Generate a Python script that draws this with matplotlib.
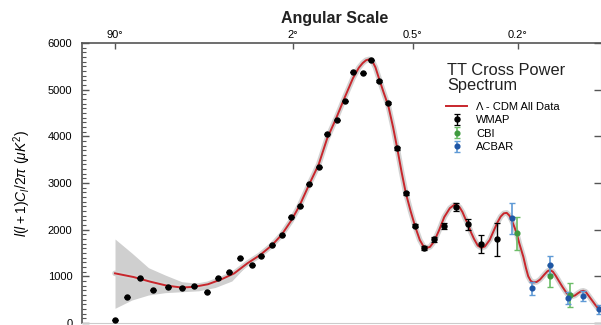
#!/usr/bin/env python3
import matplotlib
matplotlib.use("Agg")
import matplotlib.pyplot as plt
import numpy as np
from matplotlib.ticker import MultipleLocator, NullLocator, FixedLocator

plt.rcParams["font.family"] = ["Liberation Sans", "DejaVu Sans"]
plt.rcParams["mathtext.fontset"] = "custom"
plt.rcParams["mathtext.rm"] = "Liberation Sans"
plt.rcParams["mathtext.it"] = "Liberation Sans:italic"

# WMAP binned points (multipole l, l(l+1)C_l/2pi in uK^2)
wmap_l = [2, 3, 4.5, 6.4, 9.5, 13, 17, 22, 27.4, 33.5, 40.3, 48.9, 56.6, 66.6,
          77.1, 87.5, 99.4, 112, 126.9, 141.4, 158.5, 175.5, 192.5, 214, 234.5,
          256.4, 281.8, 309.1, 337.3, 369.6, 402.9, 441.4, 485.1, 537.3, 596.5,
          667.9, 763.8]
wmap_v = [64, 563, 957, 707, 777, 743, 792, 670, 970, 1098, 1385, 1242, 1435,
          1670, 1884, 2276, 2512, 2976, 3347, 4041, 4347, 4760, 5381, 5347, 5632,
          5188, 4717, 3741, 2777, 2084, 1612, 1792, 2077, 2490, 2113, 1692, 1792]
wmap_err = [0, 0, 0, 0, 0, 0, 0, 0, 0, 0, 0, 0, 0, 0,
            0, 0, 0, 0, 0, 0, 0, 0, 0, 0, 0,
            20, 20, 25, 30, 35, 40, 50, 60, 86, 120, 200, 360]

cbi_l = [891, 1146, 1323]
cbi_v = [1921, 1006, 600]
cbi_err = [350, 230, 260]

acbar_l = [861, 1004, 1146, 1301, 1451, 1615]
acbar_v = [2242, 743, 1242, 529, 578, 293]
acbar_err = [340, 140, 200, 130, 100, 100]

# best-fit Lambda-CDM model curve
model_l = [2, 3.7, 6, 9.2, 13, 17, 22.5, 29, 36.5, 45.5, 56, 67, 77, 88, 99,
           112, 127, 141, 158, 175, 192, 205, 214, 222, 230, 238, 246, 256, 268,
           282, 296, 309, 323, 337, 353, 370, 386, 400, 412, 425, 441, 462, 485,
           510, 530, 543, 556, 570, 585, 597, 613, 630, 650, 670, 690, 718, 740,
           764, 785, 805, 824, 842, 861, 876, 891, 910, 938, 957, 974, 993, 1012,
           1038, 1064, 1100, 1125, 1146, 1170, 1195, 1217, 1255, 1292, 1315, 1339,
           1370, 1400, 1430, 1451, 1475, 1500, 1537, 1575, 1615]
model_v = [1064, 985, 885, 800, 760, 775, 830, 935, 1064, 1278, 1460, 1670, 1890,
           2190, 2520, 2960, 3400, 3950, 4400, 4850, 5250, 5470, 5570, 5630, 5650,
           5610, 5480, 5230, 4950, 4650, 4200, 3741, 3230, 2777, 2400, 2050, 1780,
           1640, 1610, 1630, 1740, 1980, 2270, 2460, 2530, 2530, 2480, 2380, 2230,
           2130, 1950, 1800, 1660, 1610, 1640, 1780, 1960, 2150, 2280, 2350, 2360,
           2300, 2170, 2050, 1921, 1700, 1420, 1180, 1000, 900, 870, 880, 930, 1040,
           1110, 1135, 1100, 1010, 920, 770, 640, 590, 570, 590, 640, 680, 690, 670,
           600, 495, 390, 290]

# cosmic variance band at low l
band_l = [2, 3.5, 5.7, 8.8, 13, 18.7, 25.8, 35, 45.5, 56, 67]
band_hi = [1800, 1500, 1185, 1028, 885, 850, 920, 1050, 1310, 1490, 1700]
band_lo = [315, 492, 600, 650, 670, 690, 760, 900, 1250, 1440, 1650]

scale_l = [2, 90, 360, 900]
scale_labels = ["90\u00b0", "2\u00b0", "0.5\u00b0", "0.2\u00b0"]


def fwd(l):
    return np.power(np.abs(l), 0.25)


def inv(u):
    return np.power(np.abs(u), 4.0)


fig = plt.figure(figsize=(6.01, 3.25), dpi=100)
ax = fig.add_axes([82 / 601, 2 / 325, 519 / 601, 280 / 325])
ax.set_xscale("function", functions=(fwd, inv))
ax.set_xlim(0.493, 1637)
ax.set_ylim(0, 6000)

ax.fill_between(band_l, band_lo, band_hi, color="#cfcfcf", lw=0, zorder=1)
ax.plot(model_l, model_v, color="#d3d3d3", lw=4, solid_capstyle="round", zorder=2)
ax.plot(model_l, model_v, color="#c8262c", lw=1.4, zorder=3,
        label="\u039b - CDM All Data")

ax.errorbar(wmap_l, wmap_v, yerr=wmap_err, fmt="o", ms=3.6, color="black",
            ecolor="black", elinewidth=1.0, capsize=2, capthick=0.9, zorder=5,
            label="WMAP")
ax.errorbar(cbi_l, cbi_v, yerr=cbi_err, fmt="o", ms=3.4, color="#3f9a3f",
            ecolor="#6cbd68", elinewidth=1.2, capsize=2, capthick=1.0, zorder=4,
            label="CBI")
ax.errorbar(acbar_l, acbar_v, yerr=acbar_err, fmt="o", ms=3.4, color="#1f56a5",
            ecolor="#5f9ad6", elinewidth=1.2, capsize=2, capthick=1.0, zorder=4,
            label="ACBAR")

# axes styling
for side in ["top", "left"]:
    ax.spines[side].set_color("#555555")
    ax.spines[side].set_linewidth(1.2)
ax.spines["bottom"].set_color("#cccccc")
ax.spines["right"].set_color("#bbbbbb")

ax.xaxis.set_major_locator(FixedLocator(scale_l))
ax.set_xticklabels(scale_labels)
ax.xaxis.set_minor_locator(NullLocator())
ax.tick_params(axis="x", top=True, bottom=False, labeltop=True, labelbottom=False,
               direction="in", length=4, width=1.0, color="#555555",
               labelsize=8, pad=2)

ax.yaxis.set_major_locator(MultipleLocator(1000))
ax.yaxis.set_minor_locator(MultipleLocator(100))
ax.tick_params(axis="y", which="major", left=True, right=True, direction="in",
               length=5, width=1.0, color="#555555", labelsize=8, pad=7)
ax.tick_params(axis="y", which="minor", left=True, right=False, direction="in",
               length=3, width=0.8, color="#555555")

ax.set_ylabel(r"$l(l+1)C_l/2\pi\ (\mu K^2)$", fontsize=10)
ax.yaxis.set_label_coords(-0.094, 0.5)

fig.text(335 / 601, 1 - 18 / 325, "Angular Scale", ha="center", va="center",
         fontsize=11.5, fontweight="bold", color="#222222")

fig.text(447 / 601, 1 - 78 / 325, "TT Cross Power\nSpectrum", ha="left",
         va="center", fontsize=11.8, linespacing=0.95, color="#222222")

leg = ax.legend(loc="upper left", bbox_to_anchor=(446 / 601, 1 - 102 / 325),
                bbox_transform=fig.transFigure, frameon=False, fontsize=8,
                borderpad=0, labelspacing=0.3, handlelength=1.9,
                handletextpad=0.8, borderaxespad=0)

fig.savefig("out.png", dpi=100)
